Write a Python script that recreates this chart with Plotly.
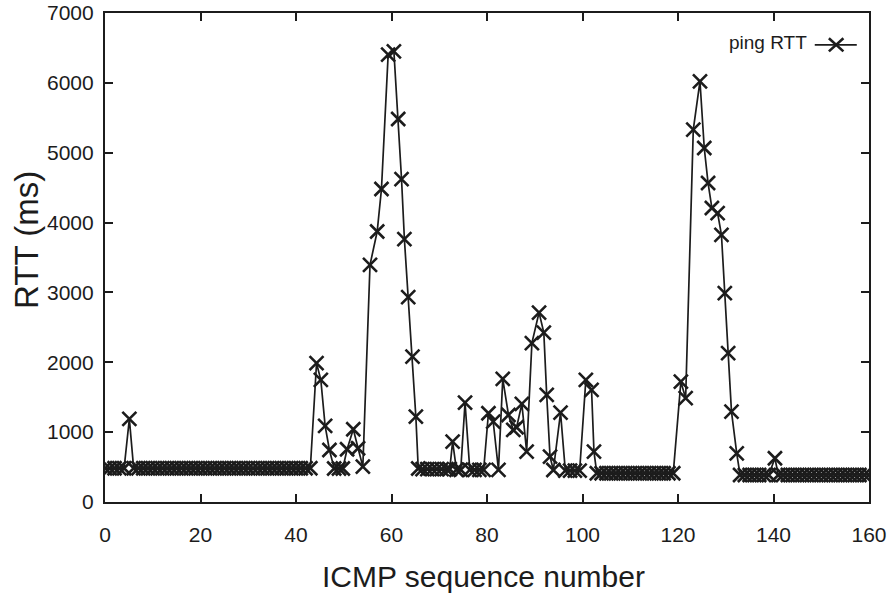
import plotly.graph_objects as go

seq = [
    0, 1, 2, 3, 4, 5.1, 6, 7, 8, 9, 10, 11, 12, 13, 14, 15, 16, 17, 18, 19, 20,
    21, 22, 23, 24, 25, 26, 27, 28, 29, 30, 31, 32, 33, 34, 35, 36, 37, 38, 39,
    40, 41, 42, 43,
    44.3, 45.2, 46.1, 47.0, 48, 49, 49.8, 50.7, 52.0, 53.0, 54.0,
    55.5, 57.0, 57.9, 59.3, 60.5, 61.4, 62.1, 62.7, 63.5, 64.4, 65.1, 65.6,
    66.5, 67.5, 68.5, 69.5, 70.5, 71.5, 72.2, 72.8, 73.6, 74.5, 75.4,
    76.4, 77.4, 78.4, 79.3, 80.3, 81.3, 82.4, 83.3, 84.5, 85.5, 86.2, 87.3,
    88.3, 89.4, 90.9, 91.9, 92.5, 93.2, 93.9, 95.4, 96.4, 97.4, 98.4, 99.4,
    100.7, 101.9, 102.4,
    103, 104, 105, 106, 107, 108, 109, 110, 111, 112, 113, 114, 115, 116, 117,
    118, 119,
    120.6, 121.6, 123.2, 124.6, 125.5, 126.3, 127.1, 128.3, 129.1, 129.8,
    130.5, 131.2, 132.3,
    133, 134, 135, 136, 137, 138, 139, 140.3, 141, 142, 143, 144, 145, 146,
    147, 148, 149, 150, 151, 152, 153, 154, 155, 156, 157, 158, 159, 160,
]

rtt_ms = [
    483, 483, 483, 483, 483, 1189, 483, 483, 483, 483, 483, 483, 483, 483, 483,
    483, 483, 483, 483, 483, 483, 483, 483, 483, 483, 483, 483, 483, 483, 483,
    483, 483, 483, 483, 483, 483, 483, 483, 483, 483, 483, 483, 483, 483,
    1987, 1748, 1089, 745, 480, 480, 480, 755, 1042, 769, 506,
    3395, 3872, 4480, 6404, 6451, 5483, 4623, 3764, 2933, 2082, 1222, 480,
    470, 470, 470, 470, 470, 470, 470, 864, 462, 462, 1423,
    460, 460, 460, 460, 1271, 1150, 460, 1762, 1246, 1032, 1070, 1404,
    721, 2274, 2712, 2425, 1533, 649, 458, 1279, 450, 450, 450, 450,
    1748, 1605, 721,
    411, 411, 411, 411, 411, 411, 411, 411, 411, 411, 411, 411, 411, 411, 411,
    411, 411,
    1723, 1486, 5330, 6022, 5067, 4566, 4208, 4136, 3825, 2990,
    2130, 1294, 696,
    387, 387, 387, 387, 387, 387, 387, 626, 387, 387, 387, 387, 387, 387,
    387, 387, 387, 387, 387, 387, 387, 387, 387, 387, 387, 387, 387, 387,
]

x_ticks = [0, 20, 40, 60, 80, 100, 120, 140, 160]
y_ticks = [0, 1000, 2000, 3000, 4000, 5000, 6000, 7000]

series_name = "ping RTT"
x_title = "ICMP sequence number"
y_title = "RTT (ms)"

ink = "#1c1c1c"
font_family = "Liberation Sans, Arial, Helvetica, sans-serif"

fig = go.Figure()
fig.add_trace(go.Scatter(
    x=seq, y=rtt_ms, mode="lines+markers", name=series_name,
    line=dict(color=ink, width=1.7),
    marker=dict(symbol="x-thin", size=14, line=dict(color=ink, width=2.6)),
    showlegend=False,
))

# legend in gnuplot style: text on the left, sample on the right
lx0, lx1, ly = 0.929, 0.984, 0.935
mx, dx, dy = 0.957, 0.0095, 0.0135
fig.add_annotation(xref="paper", yref="paper", x=0.922, y=ly + 0.004,
                   text=series_name, showarrow=False, xanchor="right",
                   yanchor="middle", font=dict(size=19, color=ink, family=font_family))
fig.add_shape(type="line", x0=lx0, x1=lx1, y0=ly, y1=ly,
              xref="paper", yref="paper", line=dict(color=ink, width=1.7))
fig.add_shape(type="line", x0=mx - dx, x1=mx + dx, y0=ly - dy, y1=ly + dy,
              xref="paper", yref="paper", line=dict(color=ink, width=2.6))
fig.add_shape(type="line", x0=mx - dx, x1=mx + dx, y0=ly + dy, y1=ly - dy,
              xref="paper", yref="paper", line=dict(color=ink, width=2.6))

# axis titles
fig.add_annotation(xref="paper", yref="paper", x=0.495, y=-0.153,
                   text=x_title, showarrow=False, xanchor="center", yanchor="middle",
                   font=dict(size=30, color=ink, family=font_family))
fig.add_annotation(xref="paper", yref="paper", x=-0.102, y=0.536,
                   text=y_title, showarrow=False, xanchor="center", yanchor="middle",
                   textangle=-90,
                   font=dict(size=33, color=ink, family=font_family))

axis_common = dict(
    showline=True, linecolor=ink, linewidth=2.2, mirror="allticks",
    ticks="inside", ticklen=8, tickwidth=2, tickcolor=ink,
    showgrid=False, zeroline=False, automargin=False,
    ticklabeloverflow="allow",
    tickfont=dict(size=21, color=ink, family=font_family),
)

fig.update_layout(
    width=892, height=596,
    paper_bgcolor="white", plot_bgcolor="white",
    margin=dict(l=105, r=23, t=13, b=94),
    font=dict(family=font_family, color=ink),
    xaxis=dict(range=[0, 160], tickvals=x_ticks, ticklabelstandoff=13, **axis_common),
    yaxis=dict(range=[0, 7000], tickvals=y_ticks, ticklabelstandoff=5, **axis_common),
)

# remove the default page margin so the figure fills the window exactly
fig.write_html("out.html", config={"displayModeBar": False},
               post_script="document.body.style.margin='0';document.body.style.overflow='hidden';")
